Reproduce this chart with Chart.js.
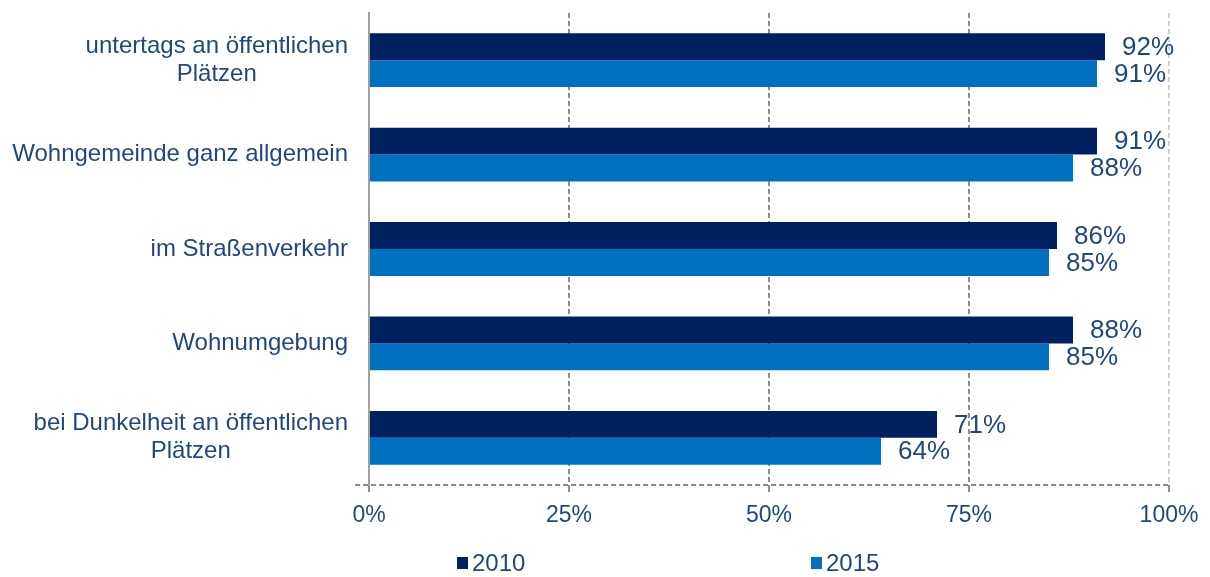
<!DOCTYPE html>
<html>
<head>
<meta charset="utf-8">
<script src="https://cdn.jsdelivr.net/npm/chart.js@4/dist/chart.umd.min.js"></script>
<style>
  body { margin: 0; background: #fff; }
  #wrap { position: relative; width: 1210px; height: 577px; }
  .legend-item { position: absolute; top: 549px; display: flex; align-items: center;
    font-family: 'Liberation Sans', Arial, sans-serif; font-size: 24px; color: #1F497D; }
  .legend-box { width: 11px; height: 12px; margin-right: 4px; }
</style>
</head>
<body>
<div id="wrap">
  <canvas id="chart" width="1210" height="577"></canvas>
  <div class="legend-item" style="left:457px"><span class="legend-box" style="background:#002060"></span>2010</div>
  <div class="legend-item" style="left:811px"><span class="legend-box" style="background:#0070C0"></span>2015</div>
</div>
<script>
/* Sicherheitsgefühl 2010 vs 2015 — horizontal bars */

const categories = [
  ['untertags an öffentlichen', 'Plätzen'],
  'Wohngemeinde ganz allgemein',
  'im Straßenverkehr',
  'Wohnumgebung',
  ['bei Dunkelheit an öffentlichen', 'Plätzen']
];
const values2010 = [92, 91, 86, 88, 71];
const values2015 = [91, 88, 85, 85, 64];
const tickValues = [0, 25, 50, 75, 100];

const TEXT = '#1F497D';
const FONT = "'Liberation Sans', Arial, sans-serif";

// value labels to the right of each bar
const valueLabels = {
  id: 'valueLabels',
  afterDatasetsDraw(chart) {
    const ctx = chart.ctx;
    ctx.save();
    ctx.font = '26px ' + FONT;
    ctx.fillStyle = TEXT;
    ctx.textAlign = 'left';
    ctx.textBaseline = 'middle';
    chart.data.datasets.forEach((ds, di) => {
      chart.getDatasetMeta(di).data.forEach((bar, i) => {
        ctx.fillText(ds.data[i] + '%', bar.x + 17, bar.y + 1);
      });
    });
    ctx.restore();
  }
};

// category labels: block right-aligned, lines centred within block
const categoryLabels = {
  id: 'categoryLabels',
  afterDraw(chart) {
    const ctx = chart.ctx;
    const y = chart.scales.y;
    ctx.save();
    ctx.font = '24px ' + FONT;
    ctx.fillStyle = TEXT;
    ctx.textAlign = 'center';
    ctx.textBaseline = 'middle';
    chart.data.labels.forEach((lbl, i) => {
      const lines = Array.isArray(lbl) ? lbl : [lbl];
      const w = Math.max(...lines.map(l => ctx.measureText(l).width));
      const cx = chart.chartArea.left - 21 - w / 2;
      const lh = 28;
      const y0 = y.getPixelForTick(i) - (lines.length - 1) * lh / 2;
      lines.forEach((l, k) => ctx.fillText(l, cx, y0 + k * lh));
    });
    ctx.restore();
  }
};

// dashed bottom axis line
const dashedBaseline = {
  id: 'dashedBaseline',
  beforeDatasetsDraw(chart) {
    const { ctx, chartArea } = chart;
    ctx.save();
    ctx.strokeStyle = '#8c8c8c';
    ctx.lineWidth = 2;
    ctx.setLineDash([5, 3]);
    ctx.beginPath();
    ctx.moveTo(chartArea.left - 14, chartArea.bottom);
    ctx.lineTo(chartArea.right, chartArea.bottom);
    ctx.stroke();
    ctx.restore();
  }
};

const ctx = document.getElementById('chart').getContext('2d');
new Chart(ctx, {
  type: 'bar',
  data: {
    labels: categories,
    datasets: [
      { label: '2010', data: values2010, backgroundColor: '#002060' },
      { label: '2015', data: values2015, backgroundColor: '#0070C0' }
    ]
  },
  options: {
    indexAxis: 'y',
    responsive: false,
    animation: false,
    categoryPercentage: 0.57,
    barPercentage: 1,
    layout: { padding: { top: 13, right: 41, left: 0, bottom: 0 } },
    plugins: {
      legend: { display: false },
      tooltip: { enabled: false }
    },
    scales: {
      x: {
        min: 0,
        max: 100,
        afterBuildTicks: (scale) => { scale.ticks = tickValues.map(v => ({ value: v })); },
        afterFit: (scale) => { scale.height = 92; },
        ticks: {
          callback: v => v + '%',
          color: TEXT,
          font: { family: FONT, size: 23 },
          padding: 10
        },
        grid: {
          color: c => c.index === 0 ? 'rgba(0,0,0,0)' : (c.tick && c.tick.value === 100 ? '#d0d0d0' : '#8c8c8c'),
          lineWidth: 2,
          tickLength: 7,
          tickColor: '#8c8c8c',
          tickWidth: 2
        },
        border: { display: false, dash: [5, 3] }
      },
      y: {
        afterFit: (scale) => { scale.width = 369; },
        ticks: { display: false },
        grid: { display: false },
        border: { display: true, color: '#a0a0a0', width: 2 }
      }
    }
  },
  plugins: [dashedBaseline, valueLabels, categoryLabels]
});
</script>
</body>
</html>
